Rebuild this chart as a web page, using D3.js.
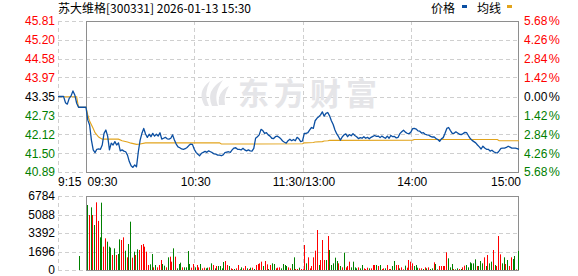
<!DOCTYPE html>
<html><head><meta charset="utf-8">
<script src="https://cdn.jsdelivr.net/npm/d3@7"></script>
<style>html,body{margin:0;padding:0;background:#fff;}svg{display:block;font-family:"Liberation Sans",Arial,"Noto Sans CJK SC",sans-serif;}</style>
</head><body><svg id="c" width="578" height="276"></svg>
<script>
// ---------- data ----------
const stockTitle = "苏大维格[300331] 2026-01-13 15:30";
const legendNames = ["价格", "均线"];
const watermark = "东方财富";
const preClose = 43.35;
const priceTicks = [45.81, 45.20, 44.58, 43.97, 43.35, 42.73, 42.12, 41.50, 40.89];
const pctTicks = ["5.68", "4.26", "2.84", "1.42", "0.00", "1.42", "2.84", "4.26", "5.68"];
const volTicks = [6784, 5088, 3392, 1696, 0];
const timeLabels = ["9:15", "09:30", "10:30", "11:30/13:00", "14:00", "15:00"];
const timeMinutes = [-15, 0, 60, 120, 180, 240];

// call auction 9:15 - 9:29
const prePrice = [43.35,43.35,43.35,43.35,43.15,43.10,43.29,43.37,43.53,43.40,43.13,43.00,43.00,43.00,43.00];
const preAvg = [43.34,43.34,43.34,43.34,43.34,43.34,43.34,43.34,43.34,43.34,43.34,43.00,43.00,43.00,43.00];
const preVolMinute = [-4];
const preVolume = [1284];

// per minute 09:30 .. 15:00 (241 points)
const price = [
43.00,42.58,42.42,41.93,41.61,41.52,41.63,41.64,41.63,41.77,42.15,42.26,42.06,41.61,41.83,41.77,41.88,41.77,41.84,41.58,
41.61,41.57,41.55,41.44,41.23,41.09,41.04,41.12,41.06,41.55,41.93,42.15,42.31,42.13,42.02,42.12,42.04,42.15,42.06,42.12,
42.06,42.17,41.96,41.99,42.02,41.97,41.96,
41.99,42.10,41.93,41.80,41.71,41.68,41.64,41.63,41.65,41.69,41.75,41.80,41.79,41.63,41.53,41.47,41.42,41.50,41.53,41.56,
41.53,41.58,41.55,41.52,41.48,41.47,41.44,41.44,41.42,41.45,41.52,41.54,41.55,41.53,41.61,41.67,41.68,41.63,41.63,41.61,
41.66,41.61,41.58,41.61,41.58,41.57,41.66,41.99,42.04,42.10,42.28,42.24,42.15,42.17,42.10,42.06,41.99,41.98,42.04,42.06,
42.02,41.97,41.90,41.86,
41.83,41.91,41.96,41.91,41.95,41.91,42.02,41.97,41.88,41.90,42.15,42.15,42.17,42.26,42.34,42.31,42.56,42.64,42.69,42.75,
42.85,42.71,42.80,42.83,42.72,42.56,42.44,42.26,42.13,42.04,41.93,42.03,42.10,42.13,42.04,42.11,42.07,42.14,42.08,42.04,
41.98,42.01,41.99,42.04,41.99,42.02,41.97,42.02,42.05,42.08,42.05,42.06,42.01,42.06,42.02,41.99,42.06,41.99,42.08,42.04,
42.05,
42.00,42.02,42.14,42.20,42.25,42.19,42.15,42.14,42.18,42.30,42.31,42.29,42.23,42.22,42.16,42.17,42.12,42.10,42.09,42.05,
42.03,42.03,41.98,41.95,41.89,41.97,42.01,42.15,42.31,42.34,42.24,42.15,42.15,42.20,42.16,42.12,42.11,42.14,42.18,42.17,
42.07,41.98,41.92,41.88,41.84,41.77,41.71,41.64,41.73,41.67,41.63,41.63,41.57,41.60,41.55,41.52,41.51,41.58,41.66,41.67,
41.67,41.69,41.73,41.70,41.67,41.67,41.67,41.65,41.63];

const avgMinutes = [0,1,2,4,5,7,9,18,20,23,25,28,30,33,74,75,120,121,126,127,131,132,134,135,181,182,228,229,240];
const avgValues = [43.00,42.75,42.55,42.31,42.17,42.03,41.96,41.96,41.91,41.87,41.83,41.79,41.80,41.84,41.84,41.80,41.81,41.84,41.85,41.87,41.88,41.90,41.91,41.92,41.93,41.95,41.95,41.91,41.91];

const volume = [
5959,5042,5745,5042,4125,6204,4500,2995,6173,2139,2903,2597,2139,2047,1375,1986,1375,1467,2811,2750,2995,1772,1161,2384,4431,1131,1681,1375,1895,1834,2292,2384,2139,1681,458,520,1467,244,458,244,458,917,550,397,244,1161,1222,764,1986,1222,153,550,672,244,244,244,1742,550,214,550,244,458,244,550,153,
214,153,214,244,611,458,153,367,367,367,153,733,825,458,367,153,92,92,153,458,61,244,153,367,153,92,214,214,92,458,550,611,764,367,825,520,92,458,611,550,153,214,244,153,550,458,367,244,153,550,1161,92,92,214,92,61,
2292,611,1161,153,367,1161,1772,3667,458,917,2750,917,917,3117,1834,458,611,1131,825,611,367,244,1589,244,367,764,244,764,244,153,244,153,458,153,92,214,153,153,458,458,458,367,
458,92,153,153,458,92,92,367,825,458,458,153,244,61,397,214,917,764,611,367,458,214,153,153,92,244,153,244,92,153,703,550,61,367,367,367,367,1620,1070,244,550,92,61,153,92,92,244,397,458,244,703,611,611,978,367,367,825,611,1161,367,1375,611,764,1834,458,367,3117,1436,611,1161,550,917,367,1161,1008,1284,61,1742];
// R = up (red), G = down (green)
const volDir = ("GRGRG RRGGR RGGGR GRGGR RGRGG RGRGR RRRRR GGRGR RRGGR GRRGR GGGRG GGGRR GRRGR " +
  "RGGRGRGRGGGGRRGR RGRRGG RRGRG RGRRRRGRRG RGGRRRGGGG RRGGR RGRR " +
  "RGRRRRRRGRRRGRGGGGGRGRGRRRGG GGRGGRRRGRRRGR " +
  "GRRGR RRGGRRGRRGRRRRGGGR RGRGRGGRGGRRRRRGGGR GGRGRRGGGGGGRGGGRGRGGRGRRRGGRGRRGGR G").replace(/ /g, "").split("");
const preVolDir = ["G"];

// ---------- drawing ----------
const RED = "#ff0000", GREEN = "#008000", GRID = "#cfcfcf", BOX = "#8e8e8e";
const BLUE = "#0b4fa2", ORANGE = "#e2a41c";
const svg = d3.select("#c");
svg.append("rect").attr("width", 578).attr("height", 276).attr("fill", "#fff");

const x = d3.scaleLinear().domain([-15, 0, 240]).range([58, 86, 519]);
const barX = d3.scaleLinear().domain([0, 240]).range([87, 518]);
const y = d3.scaleLinear().domain([40.89, 45.81]).range([172, 21]);
const v = d3.scaleLinear().domain([0, 6784]).range([270, 196]);
const px = n => Math.round(n) + 0.5;

const grid = svg.append("g").attr("stroke", GRID).attr("stroke-dasharray", "4,3").attr("fill", "none");
priceTicks.forEach(t => grid.append("line").attr("x1", 58).attr("x2", 519).attr("y1", px(y(t))).attr("y2", px(y(t))));
volTicks.forEach(t => grid.append("line").attr("x1", 58).attr("x2", 519).attr("y1", px(v(t))).attr("y2", px(v(t))));
[-15, 60, 120, 180].forEach(m => {
  grid.append("line").attr("x1", px(x(m))).attr("x2", px(x(m))).attr("y1", 21).attr("y2", 172);
  grid.append("line").attr("x1", px(x(m))).attr("x2", px(x(m))).attr("y1", 196).attr("y2", 270);
});

// watermark
const wm = svg.append("g").attr("fill", "#e5e5e8");
wm.append("path").attr("d", "M205,106 Q196,92 210,81 Q203,94 209,106 Z");
wm.append("path").attr("d", "M212,106 Q205,90 223,80 Q213,94 218,106 Z");
wm.append("path").attr("d", "M219,105 Q217,92 229,86 Q223,96 225,105 Z");
wm.append("text").attr("x", 238).attr("y", 105).attr("font-size", 31).attr("font-weight", "bold")
  .attr("letter-spacing", 5).attr("font-family", "'Noto Sans CJK SC',sans-serif").text(watermark);

// boxes
svg.append("rect").attr("x", px(x(0))).attr("y", px(y(45.81))).attr("width", x(240) - x(0) - 1).attr("height", y(40.89) - y(45.81))
  .attr("fill", "none").attr("stroke", BOX);
svg.append("rect").attr("x", px(x(0))).attr("y", px(v(6784))).attr("width", x(240) - x(0) - 1).attr("height", v(0) - v(6784))
  .attr("fill", "none").attr("stroke", BOX);

// lines
const line = d3.line().x(d => x(d[0])).y(d => y(d[1]));
const avgPts = preAvg.map((p, i) => [i - 15, p]).concat(avgMinutes.map((m, i) => [m, avgValues[i]]));
const pricePts = prePrice.map((p, i) => [i - 15, p]).concat(price.map((p, i) => [i, p]));
svg.append("path").datum(avgPts).attr("d", line).attr("fill", "none").attr("stroke", ORANGE).attr("stroke-width", 1.1);
svg.append("path").datum(pricePts).attr("d", line).attr("fill", "none").attr("stroke", BLUE).attr("stroke-width", 1.3)
  .attr("stroke-linejoin", "round");

// volume bars
const bars = svg.append("g");
bars.selectAll("rect.v").data(volume).join("rect").attr("class", "v")
  .attr("x", (d, i) => Math.round(barX(i))).attr("width", 1)
  .attr("y", d => v(d)).attr("height", d => v(0) - v(d))
  .attr("fill", (d, i) => (volDir[i] === "R" ? RED : GREEN));
bars.selectAll("rect.p").data(preVolume).join("rect").attr("class", "p")
  .attr("x", (d, i) => Math.round(x(preVolMinute[i]))).attr("width", 1)
  .attr("y", d => v(d)).attr("height", d => v(0) - v(d))
  .attr("fill", (d, i) => (preVolDir[i] === "R" ? RED : GREEN));

// axes
function styleAxis(g) {
  g.select(".domain").remove();
  g.selectAll("line").remove();
  g.attr("font-size", 12).attr("font-family", "'Liberation Sans',Arial,sans-serif");
}
const colorFor = t => (t > preClose ? RED : t < preClose ? GREEN : "#000");
const gl = svg.append("g").attr("transform", "translate(58,0)")
  .call(d3.axisLeft(y).tickValues(priceTicks).tickSize(0).tickPadding(3).tickFormat(d3.format(".2f")));
styleAxis(gl);
gl.selectAll("text").attr("fill", d => colorFor(d));

const gr = svg.append("g").attr("transform", "translate(519,0)")
  .call(d3.axisRight(y).tickValues(priceTicks).tickSize(0).tickPadding(5).tickFormat((d, i) => pctTicks[i]));
styleAxis(gr);
gr.selectAll("text").attr("fill", d => colorFor(d)).each(function () {
  d3.select(this).append("tspan").attr("dx", 1.5).attr("font-size", 12.5).text("%");
});

const gv = svg.append("g").attr("transform", "translate(58,0)")
  .call(d3.axisLeft(v).tickValues(volTicks).tickSize(0).tickPadding(3).tickFormat(d3.format("d")));
styleAxis(gv);
gv.selectAll("text").attr("fill", "#000");

const gt = svg.append("g").attr("transform", "translate(0,172)")
  .call(d3.axisBottom(x).tickValues(timeMinutes).tickSize(0).tickFormat((d, i) => timeLabels[i]));
styleAxis(gt);
gt.selectAll("text").attr("y", 14).attr("dy", 0).attr("fill", "#000")
  .attr("text-anchor", (d, i) => (i < 2 ? "start" : i === timeLabels.length - 1 ? "end" : "middle"))
  .attr("dx", (d, i) => (i === 0 ? -0.5 : i === 1 ? 1 : i === timeLabels.length - 1 ? 1.5 : 1));

// header
svg.append("text").attr("x", 58).attr("y", 13).attr("font-size", 12).attr("fill", "#000")
  .attr("font-family", "'Noto Sans CJK SC','Liberation Sans',sans-serif").text(stockTitle);
const lg = svg.append("g").attr("font-size", 12).attr("font-family", "'Noto Sans CJK SC',sans-serif").attr("fill", "#000");
lg.append("text").attr("x", 431).attr("y", 13).text(legendNames[0]);
lg.append("rect").attr("x", 462).attr("y", 5).attr("width", 5).attr("height", 3).attr("fill", BLUE);
lg.append("text").attr("x", 477).attr("y", 13).text(legendNames[1]);
lg.append("rect").attr("x", 507).attr("y", 5).attr("width", 5).attr("height", 3).attr("fill", ORANGE);
</script></body></html>
